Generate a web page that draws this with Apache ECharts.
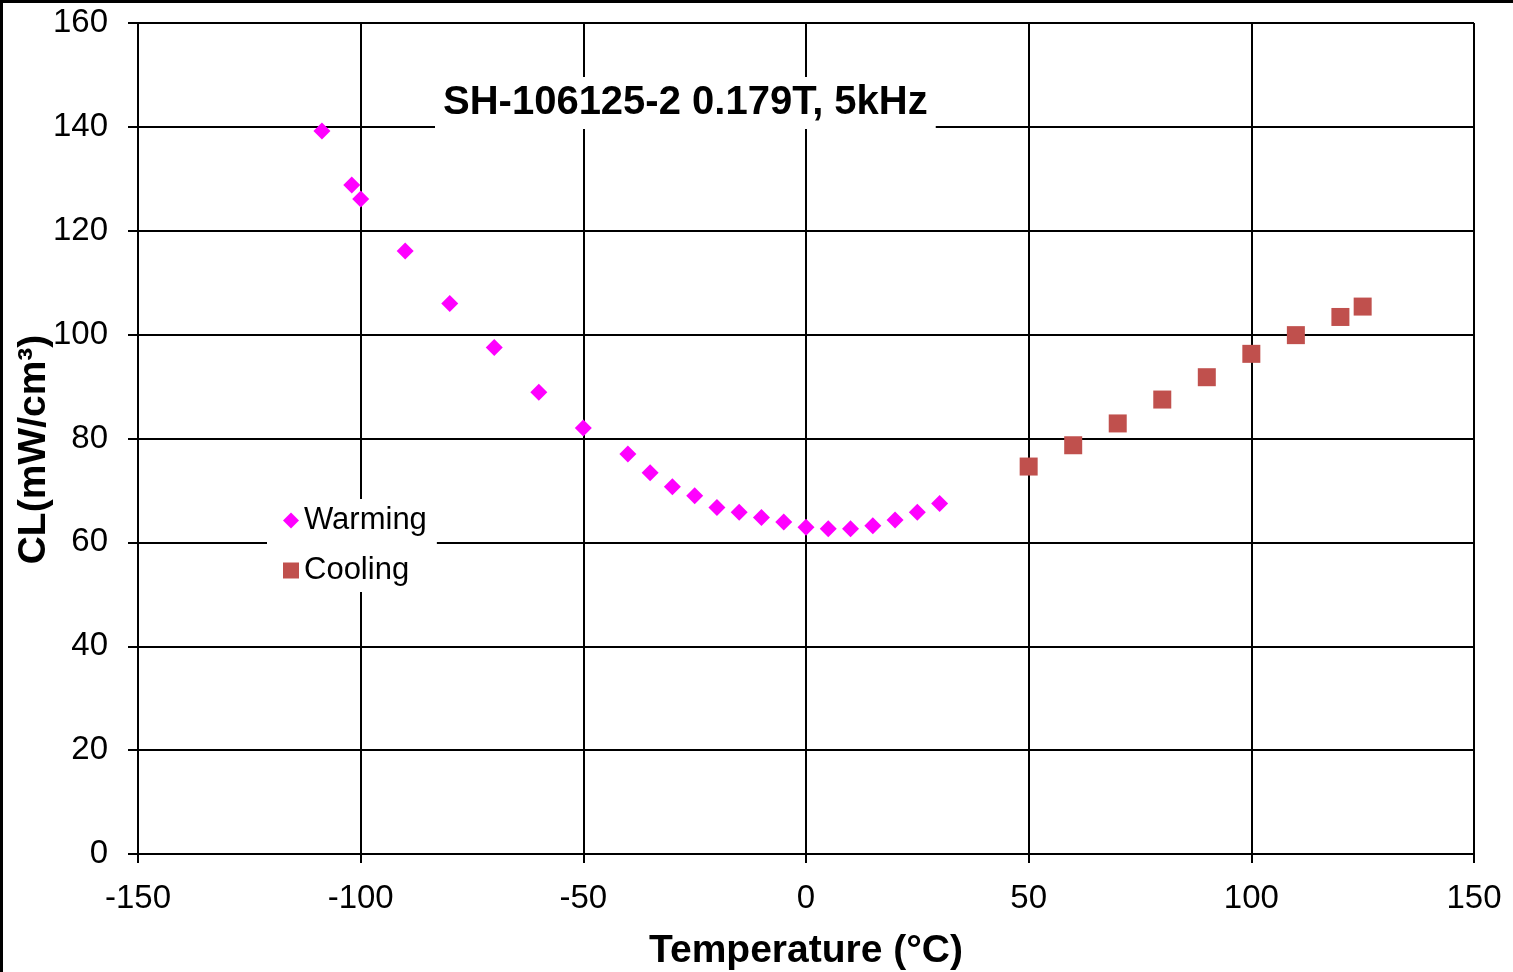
<!DOCTYPE html>
<html>
<head>
<meta charset="utf-8">
<script src="https://cdn.jsdelivr.net/npm/echarts@6/dist/echarts.min.js"></script>
<style>
html,body{margin:0;padding:0;background:#000;width:1513px;height:972px;overflow:hidden;}
#chart{position:absolute;left:3px;top:3px;width:1510px;height:969px;background:#fff;}
</style>
</head>
<body>
<div id="chart"></div>
<script>
const titleText = 'SH-106125-2 0.179T, 5kHz';
const xAxisName = 'Temperature (°C)';
const yAxisName = 'CL(mW/cm³)';
const seriesNames = ['Warming', 'Cooling'];

const warmingT = [-108.7, -102, -100, -90, -80, -70, -60, -50, -40, -35, -30, -25, -20, -15, -10, -5, 0, 5, 10, 15, 20, 25, 30];
const warmingCL = [139.2, 128.8, 126.1, 116.1, 106.0, 97.5, 88.9, 82.0, 77.0, 73.4, 70.7, 69.0, 66.7, 65.8, 64.8, 63.9, 62.9, 62.6, 62.6, 63.2, 64.3, 65.8, 67.5];

const coolingT = [50, 60, 70, 80, 90, 100, 110, 120, 125];
const coolingCL = [74.6, 78.7, 82.9, 87.5, 91.8, 96.3, 99.9, 103.4, 105.4];

const xMin = -150, xMax = 150, xStep = 50;
const yMin = 0, yMax = 160, yStep = 20;

const FONT = '"Liberation Sans", Arial, sans-serif';

const chart = echarts.init(document.getElementById('chart'), null, {renderer: 'canvas'});
chart.setOption({
  animation: false,
  backgroundColor: '#fff',
  title: {
    text: titleText,
    left: 432,
    top: 74,
    padding: [6, 8, 6, 8],
    backgroundColor: '#fff',
    textStyle: {fontFamily: FONT, fontSize: 40, fontWeight: 'bold', color: '#000'}
  },
  legend: {
    orient: 'vertical',
    left: 264,
    top: 496,
    padding: [6, 10, 6, 16],
    backgroundColor: '#fff',
    itemWidth: 16,
    itemHeight: 16,
    itemGap: 19,
    textStyle: {fontFamily: FONT, fontSize: 31, color: '#000'},
    data: [
      {name: seriesNames[0], icon: 'diamond', itemStyle: {color: '#FF00FF', opacity: 1}},
      {name: seriesNames[1], icon: 'rect', itemStyle: {color: '#C0504D', opacity: 1}}
    ]
  },
  grid: {left: 135, right: 39, top: 20, bottom: 118, containLabel: false, outerBoundsMode: 'none'},
  xAxis: {
    type: 'value',
    min: xMin, max: xMax, interval: xStep,
    name: xAxisName,
    nameLocation: 'middle',
    nameGap: 78,
    nameMoveOverlap: false,
    nameTextStyle: {fontFamily: FONT, fontSize: 39, fontWeight: 'bold', color: '#000'},
    axisLine: {show: true, onZero: false, lineStyle: {color: '#000', width: 2}},
    axisTick: {show: true, length: 9, lineStyle: {color: '#000', width: 2}},
    axisLabel: {fontFamily: FONT, fontSize: 33, color: '#000', margin: 28},
    splitLine: {show: true, lineStyle: {color: '#000', width: 2}}
  },
  yAxis: {
    type: 'value',
    min: yMin, max: yMax, interval: yStep,
    name: yAxisName,
    nameLocation: 'middle',
    nameGap: 84,
    nameMoveOverlap: false,
    nameRotate: 90,
    nameTextStyle: {fontFamily: FONT, fontSize: 39, fontWeight: 'bold', color: '#000', padding: [0, 22, 0, 0]},
    axisLine: {show: true, onZero: false, lineStyle: {color: '#000', width: 2}},
    axisTick: {show: true, length: 10, lineStyle: {color: '#000', width: 2}},
    axisLabel: {fontFamily: FONT, fontSize: 33, color: '#000', margin: 30},
    splitLine: {show: true, lineStyle: {color: '#000', width: 2}}
  },
  series: [
    {
      name: seriesNames[0],
      type: 'scatter',
      symbol: 'diamond',
      symbolSize: 17,
      itemStyle: {color: '#FF00FF', opacity: 1},
      z: 3,
      data: warmingT.map((t, i) => [t, warmingCL[i]])
    },
    {
      name: seriesNames[1],
      type: 'scatter',
      symbol: 'rect',
      symbolSize: 18,
      itemStyle: {color: '#C0504D', opacity: 1},
      z: 3,
      data: coolingT.map((t, i) => [t, coolingCL[i]])
    }
  ]
});
</script>
</body>
</html>
